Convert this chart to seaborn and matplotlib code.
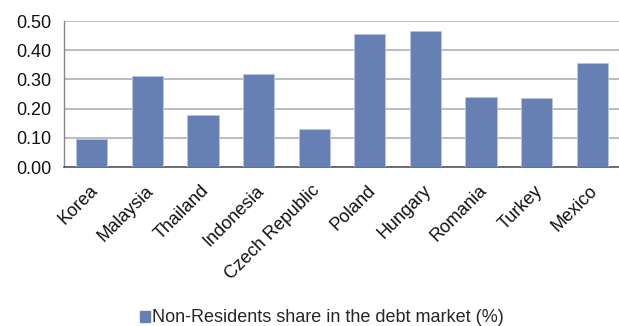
import matplotlib
matplotlib.use("Agg")
import matplotlib.pyplot as plt
import matplotlib.transforms as mtransforms
import seaborn as sns
import pandas as pd
from matplotlib.patches import Patch

countries = ["Korea", "Malaysia", "Thailand", "Indonesia", "Czech Republic",
             "Poland", "Hungary", "Romania", "Turkey", "Mexico"]
shares = [0.096, 0.312, 0.179, 0.318, 0.130, 0.454, 0.465, 0.241, 0.236, 0.357]
yticks = [0.0, 0.1, 0.2, 0.3, 0.4, 0.5]
series_label = "Non-Residents share in the debt market (%)"

df = pd.DataFrame({"country": countries, "share": shares})

sns.set_theme(style="white")
plt.rcParams["font.family"] = ["Liberation Sans", "DejaVu Sans"]

fig = plt.figure(figsize=(6.19, 3.26), dpi=100)
ax = fig.add_axes([64/619, 1-167/326, (620-64)/619, 146/326])

color = "#6680B3"
sns.barplot(data=df, x="country", y="share", color=color, width=0.56,
            edgecolor="#B8C6E0", linewidth=0.6, saturation=1, ax=ax, zorder=3)

ax.set_ylim(0, 0.5)
ax.set_xlim(-0.5, len(countries) - 0.5)
ax.set_yticks(yticks)
ax.set_yticklabels([f"{v:.2f}" for v in yticks], fontsize=13, color="#111111")
ax.yaxis.grid(True, color="#B0B0B0", linewidth=1.2, zorder=0)
ax.set_axisbelow(True)

ax.set_xticks([i for i in range(len(countries))])
ax.set_xticklabels(countries, rotation=45, ha="right", rotation_mode="anchor",
                   fontsize=13, color="#111111")
ax.tick_params(axis="x", length=0, pad=11)
offset = mtransforms.ScaledTranslation(-3/100, 0, fig.dpi_scale_trans)
for lbl in ax.get_xticklabels():
    lbl.set_transform(lbl.get_transform() + offset)
# boundary ticks
ax.set_xticks([i - 0.5 for i in range(len(countries) + 1)], minor=True)
ax.tick_params(axis="x", which="minor", length=5, width=1, color="#555555", direction="out")
ax.tick_params(axis="y", length=5, width=1, color="#888888", direction="out", pad=4)

ax.set_xlabel("")
ax.set_ylabel("")
for s in ["top", "right"]:
    ax.spines[s].set_visible(False)
ax.spines["left"].set_color("#888888")
ax.spines["left"].set_linewidth(1)
ax.spines["bottom"].set_color("#555555")
ax.spines["bottom"].set_linewidth(1.2)

handle = Patch(facecolor=color, edgecolor=color, label=series_label)
fig.legend(handles=[handle], loc="center", bbox_to_anchor=(322/619, 1-318/326),
           frameon=False, fontsize=13, handlelength=0.55, handleheight=0.55,
           handletextpad=0.15, borderpad=0)

fig.savefig("out.png", dpi=100)
